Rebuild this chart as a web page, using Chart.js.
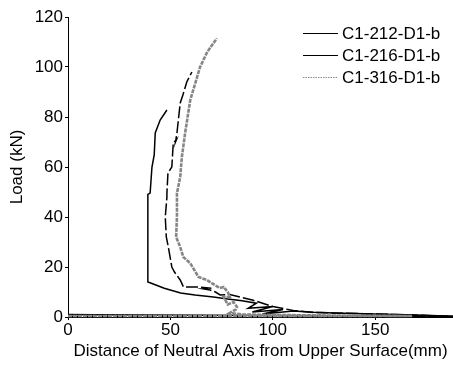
<!DOCTYPE html>
<html>
<head>
<meta charset="utf-8">
<script src="https://cdn.jsdelivr.net/npm/chart.js@4/dist/chart.umd.min.js"></script>
<style>
  html, body { margin: 0; padding: 0; background: #fff; overflow: hidden; }
  #wrap { width: 453px; height: 367px; }
</style>
</head>
<body>
<div id="wrap"><canvas id="chart" width="453" height="367"></canvas></div>
<script>
// ── Data ──────────────────────────────────────────────────────
const SERIES_NAMES = ['C1-212-D1-b', 'C1-216-D1-b', 'C1-316-D1-b'];

// C1-212-D1-b : distance (mm) / load (kN)
const s1X = [0, 12, 188, 170, 150, 130, 120, 110, 95, 105, 90, 100, 88, 92, 85, 78, 71, 62, 55, 47, 41, 39, 39, 39, 40.1, 41, 42.1, 42.6, 45, 48.3];
const s1Y = [1.0, 0.9, 0.3, 0.8, 1.2, 1.6, 1.9, 2.4, 1.2, 3.0, 2.0, 4.2, 3.5, 5.5, 6.5, 7.2, 8.0, 8.8, 9.6, 11.5, 13.4, 14, 30, 49, 49.6, 60, 64.8, 73.6, 78.8, 82.8];

// C1-216-D1-b
const s2X = [0, 188, 160, 135, 120, 110, 100, 95, 90, 84, 79, 74.3, 72, 69.4, 66, 70, 62.9, 56.4, 54.8, 52, 50.7, 49, 48, 47.5, 48.3, 48.3, 48.8, 50.7, 51.4, 53, 52.5, 53.2, 54.8, 56.1, 58, 60.5];
const s2Y = [0.2, 0.3, 1.0, 1.5, 1.8, 2.6, 4.2, 5.5, 6.8, 8.0, 9.0, 8.8, 10.0, 10.8, 11.3, 11.5, 12, 12, 14.8, 18, 20, 28, 32, 40, 48, 49.5, 57.6, 60, 69.6, 71, 70, 73.6, 85.6, 88.8, 94, 98];

// C1-316-D1-b
const s3X = [0, 168, 130, 100, 85, 79, 82, 82.5, 80.8, 78, 76, 79, 78, 76, 74, 67.8, 63.7, 59.7, 56.3, 54.8, 52.8, 53.2, 53.2, 53.2, 54.8, 55.6, 57.2, 59.7, 64.5, 68, 72.7];
const s3Y = [0.4, 0.4, 0.6, 0.8, 1.0, 1.6, 3.0, 4.0, 6.0, 5.0, 8.0, 8.0, 10, 12, 11.6, 14.8, 16, 21.5, 24, 28, 32, 40, 48, 49.5, 56, 64, 73.6, 86.8, 100, 106, 111.5];

const X_TICKS = [0, 50, 100, 150];
const Y_TICKS = [0, 20, 40, 60, 80, 100, 120];

// ── Helpers ───────────────────────────────────────────────────
const pts = (xs, ys) => xs.map((x, i) => ({ x, y: ys[i] }));
const FONT = 'Arial, "Liberation Sans", sans-serif';

const STYLES = [
    { color: '#000000', width: 1.5, dash: [] },
    { color: '#000000', width: 1.5, dash: [12, 3] },
    { color: '#868686', width: 2.6, dash: [4, 1] },
];

// legend drawn by hand so that the swatches look like the reference
const legendPlugin = {
    id: 'refLegend',
    afterDraw(chart) {
        const ctx = chart.ctx;
        ctx.save();
        ctx.font = '17px ' + FONT;
        ctx.textBaseline = 'middle';
        SERIES_NAMES.forEach((name, i) => {
            const y = 33 + i * 22;
            ctx.beginPath();
            ctx.strokeStyle = i === 2 ? '#8a8a8a' : '#000';
            ctx.lineWidth = 1;
            ctx.setLineDash(i === 2 ? [1.5, 1] : []);
            ctx.moveTo(303, y + 0.5);
            ctx.lineTo(338, y + 0.5);
            ctx.stroke();
            ctx.setLineDash([]);
            ctx.fillStyle = '#000';
            ctx.fillText(name, 342, y + 1);
        });
        ctx.restore();
    }
};

// ── Chart ─────────────────────────────────────────────────────
const datasets = [[s1X, s1Y], [s2X, s2Y], [s3X, s3Y]].map(([xs, ys], i) => ({
    label: SERIES_NAMES[i],
    data: pts(xs, ys),
    showLine: true,
    borderColor: STYLES[i].color,
    borderWidth: STYLES[i].width,
    borderDash: STYLES[i].dash,
    pointRadius: 0,
    tension: 0,
    clip: false,
}));

new Chart(document.getElementById('chart'), {
    type: 'scatter',
    data: { datasets: [datasets[2], datasets[1], datasets[0]] },
    options: {
        responsive: false, animation: false,
        layout: { padding: { top: 17, right: 0, left: 0, bottom: 0 } },
        plugins: { legend: { display: false }, tooltip: { enabled: false } },
        scales: {
            x: {
                type: 'linear', min: 0, max: 188,
                afterBuildTicks: s => { s.ticks = X_TICKS.map(v => ({ value: v })); },
                afterFit: s => { s.height = 50; },
                grid: { display: true, drawOnChartArea: false, drawTicks: true, tickLength: 3, color: '#000' },
                border: { display: true, color: '#000', width: 1 },
                ticks: { color: '#000', font: { family: FONT, size: 17 }, padding: 0, maxRotation: 0 },
                title: { display: true, text: 'Distance of Neutral Axis from Upper Surface(mm)', color: '#000',
                         font: { family: FONT, size: 17 }, padding: { top: 0, bottom: 5 } },
            },
            y: {
                type: 'linear', min: 0, max: 120,
                afterBuildTicks: s => { s.ticks = Y_TICKS.map(v => ({ value: v })); },
                afterFit: s => { s.width = 68; },
                grid: { display: true, drawOnChartArea: false, drawTicks: true, tickLength: 3, color: '#000' },
                border: { display: true, color: '#000', width: 1 },
                ticks: { color: '#000', font: { family: FONT, size: 17 }, padding: 2 },
                title: { display: true, text: 'Load (kN)', color: '#000',
                         font: { family: FONT, size: 17 }, padding: { top: 7, bottom: 0 } },
            },
        },
    },
    plugins: [legendPlugin],
});
</script>
</body>
</html>
